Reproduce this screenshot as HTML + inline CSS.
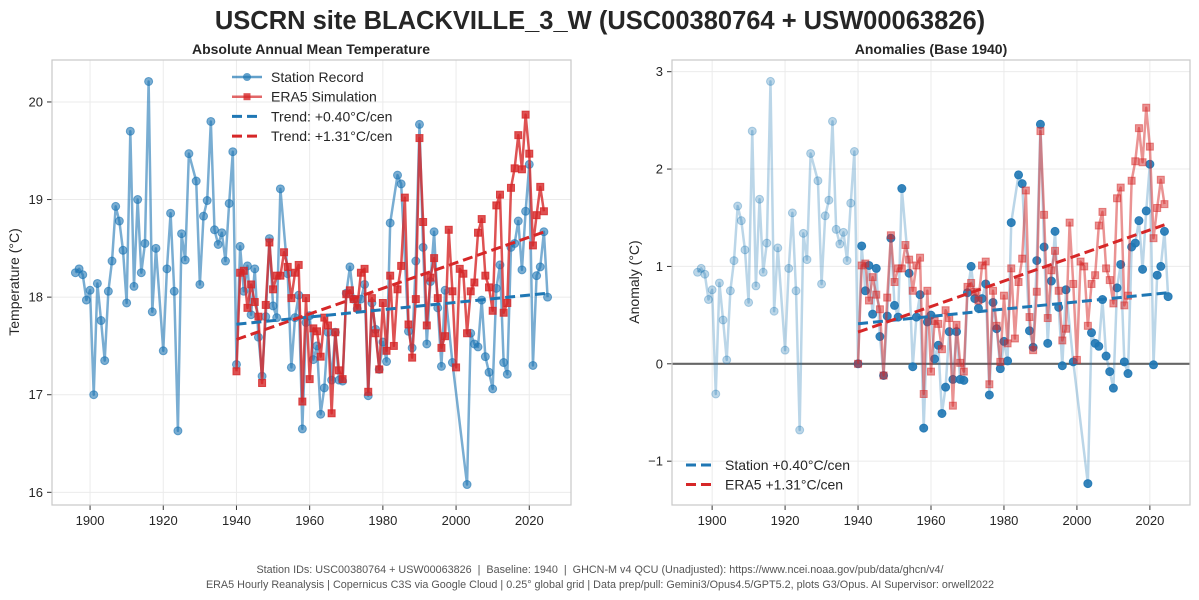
<!DOCTYPE html>
<html><head><meta charset="utf-8"><style>
html,body{margin:0;padding:0;background:#fff;}
svg{display:block;font-family:"Liberation Sans",sans-serif;}
</style></head><body>
<svg id="chart" width="1199" height="600" viewBox="0 0 1199 600">
<text x="600" y="29" text-anchor="middle" font-size="25.5" font-weight="bold" fill="#262626">USCRN site BLACKVILLE_3_W (USC00380764 + USW00063826)</text>
<text x="311" y="54" text-anchor="middle" font-size="14" font-weight="bold" fill="#262626">Absolute Annual Mean Temperature</text>
<text x="931" y="54" text-anchor="middle" font-size="14" font-weight="bold" fill="#262626">Anomalies (Base 1940)</text>
<text transform="translate(19,282) rotate(-90)" text-anchor="middle" font-size="14" fill="#262626">Temperature (°C)</text>
<text transform="translate(639,282) rotate(-90)" text-anchor="middle" font-size="14" fill="#262626">Anomaly (°C)</text>
<g id="left"></g>
<g id="right"></g>
<text x="600" y="573" text-anchor="middle" font-size="10.8" fill="#555" xml:space="preserve" style="white-space:pre">Station IDs: USC00380764 + USW00063826  |  Baseline: 1940  |  GHCN-M v4 QCU (Unadjusted): https://www.ncei.noaa.gov/pub/data/ghcn/v4/</text>
<text x="600" y="588" text-anchor="middle" font-size="10.8" fill="#555">ERA5 Hourly Reanalysis | Copernicus C3S via Google Cloud | 0.25° global grid | Data prep/pull: Gemini3/Opus4.5/GPT5.2, plots G3/Opus. AI Supervisor: orwell2022</text>
</svg>
<script>
const stationYears=[1896,1897,1898,1899,1900,1901,1902,1903,1904,1905,1906,1907,1908,1909,1910,1911,1912,1913,1914,1915,1916,1917,1918,1920,1921,1922,1923,1924,1925,1926,1927,1929,1930,1931,1932,1933,1934,1935,1936,1937,1938,1939,
1940,1941,1942,1943,1944,1945,1946,1947,1948,1949,1950,1951,1952,1954,1955,1956,1957,1958,1959,1960,1961,1962,1963,1964,1965,1966,1967,1968,1969,1970,1971,1972,1973,1974,1975,1976,1977,1978,1979,1980,1981,1982,
1984,1985,1987,1988,1989,1990,1991,1992,1993,1994,1995,1996,1997,1999,2003,2004,2005,2006,2007,2008,2009,2010,2011,2012,2013,2014,2015,2016,2017,2018,2019,2020,2021,2022,2023,2024,2025];
const stationTemps=[18.25,18.29,18.23,17.97,18.07,17.0,18.14,17.76,17.35,18.06,18.37,18.93,18.78,18.48,17.94,19.70,18.11,19.0,18.25,18.55,20.21,17.85,18.50,17.45,18.29,18.86,18.06,16.63,18.65,18.38,19.47,19.19,18.13,18.83,18.99,19.8,18.69,18.54,18.66,18.37,18.96,19.49,
17.31,18.52,18.06,18.32,17.82,18.29,17.59,17.19,17.80,18.6,17.91,17.79,19.11,18.24,17.28,17.79,18.02,16.65,17.74,17.81,17.36,17.5,16.8,17.07,17.64,17.15,17.64,17.15,17.14,18.04,18.31,17.98,17.88,17.98,18.13,16.99,17.94,17.67,17.26,17.54,17.34,18.76,
19.25,19.16,17.65,17.48,18.37,19.77,18.51,17.52,18.16,18.67,17.89,17.29,18.07,17.33,16.08,17.63,17.52,17.49,17.97,17.39,17.23,17.06,18.09,18.33,17.33,17.21,18.51,18.55,18.78,18.28,18.88,19.36,17.30,18.22,18.31,18.67,18.0];
const era5Years=[];for(let y=1940;y<=2024;y++)era5Years.push(y);
const era5Temps=[17.24,18.25,18.27,17.89,18.13,17.95,17.8,17.12,17.92,18.56,18.08,18.22,18.22,18.46,18.31,17.99,18.25,18.33,16.93,17.99,17.16,17.68,17.65,17.39,17.79,17.71,16.81,17.64,17.25,17.16,18.03,18.07,17.98,17.89,18.25,18.29,17.03,17.99,17.63,17.26,17.94,17.45,18.22,17.5,18.08,18.32,
19.02,17.72,17.38,17.98,19.63,18.77,17.71,18.2,18.4,17.99,17.48,17.6,18.69,18.06,17.28,18.29,18.24,17.63,18.06,18.15,18.66,18.8,18.22,18.1,17.86,18.94,19.05,17.84,17.94,19.12,19.32,19.66,19.31,19.87,19.47,18.53,18.84,19.13,18.88];
const baseYear=1940;
const xTicks=[1900,1920,1940,1960,1980,2000,2020];
const leftYTicks=[16,17,18,19,20];
const rightYTicks=[-1,0,1,2,3];
const legendLeft=["Station Record","ERA5 Simulation","Trend: +0.40°C/cen","Trend: +1.31°C/cen"];
const legendRight=["Station +0.40°C/cen","ERA5 +1.31°C/cen"];

const NS="http://www.w3.org/2000/svg";
function mk(parent,tag,attrs){const e=document.createElementNS(NS,tag);for(const k in attrs)e.setAttribute(k,attrs[k]);parent.appendChild(e);return e;}
function fit(xs,ys){const n=xs.length;let mx=0,my=0;for(let i=0;i<n;i++){mx+=xs[i];my+=ys[i];}mx/=n;my/=n;let sxy=0,sxx=0;for(let i=0;i<n;i++){sxy+=(xs[i]-mx)*(ys[i]-my);sxx+=(xs[i]-mx)**2;}const b=sxy/sxx;return y=>my+b*(y-mx);}
const BLUE="#1f77b4",RED="#d62728";

function panel(g,L,R,T,B,x0,x1,y0,y1,yTicks,isAnom){
  const sx=v=>L+(v-x0)/(x1-x0)*(R-L), sy=v=>B-(v-y0)/(y1-y0)*(B-T);
  const grid=mk(g,'g',{});
  xTicks.forEach(t=>{mk(grid,'line',{x1:sx(t),x2:sx(t),y1:T,y2:B,stroke:'#ebebeb','stroke-width':1});
    mk(g,'line',{x1:sx(t),x2:sx(t),y1:B,y2:B+5,stroke:'#333','stroke-width':1});
    const tx=mk(g,'text',{x:sx(t),y:B+20,'text-anchor':'middle','font-size':13,fill:'#262626'});tx.textContent=t;
    });
  yTicks.forEach(t=>{mk(grid,'line',{x1:L,x2:R,y1:sy(t),y2:sy(t),stroke:'#ebebeb','stroke-width':1});
    mk(g,'line',{x1:L-5,x2:L,y1:sy(t),y2:sy(t),stroke:'#333','stroke-width':1});
    const tx=mk(g,'text',{x:L-9,y:sy(t)+4.5,'text-anchor':'end','font-size':13,fill:'#262626'});tx.textContent=(t<0?'\u2212'+(-t):t);
    });
  const bi=stationYears.indexOf(baseYear), sb=stationTemps[bi], eb=era5Temps[era5Years.indexOf(baseYear)];
  const sv=isAnom?stationTemps.map(v=>v-sb):stationTemps, ev=isAnom?era5Temps.map(v=>v-eb):era5Temps;
  if(isAnom){const z=mk(g,'line',{x1:L,x2:R,y1:sy(0),y2:sy(0),stroke:'#666','stroke-width':2.2});}
  const spts=stationYears.map((y,i)=>sx(y)+','+sy(sv[i])).join(' ');
  const sl=mk(g,'polyline',{points:spts,fill:'none',stroke:BLUE,'stroke-width':2.5,'stroke-opacity':isAnom?0.3:0.6,'stroke-linejoin':'round'});
  
  const sm=mk(g,'g',{});
  stationYears.forEach((y,i)=>{let op=0.6;if(isAnom)op=y>=baseYear?0.9:0.3;
    const c=mk(sm,'circle',{cx:sx(y),cy:sy(sv[i]),r:4,fill:BLUE,'fill-opacity':op,stroke:BLUE,'stroke-opacity':op,'stroke-width':1});
    });
  const epts=era5Years.map((y,i)=>sx(y)+','+sy(ev[i])).join(' ');
  const el=mk(g,'polyline',{points:epts,fill:'none',stroke:RED,'stroke-width':2.5,'stroke-opacity':isAnom?0.5:0.8,'stroke-linejoin':'round'});
  
  const em=mk(g,'g',{});
  era5Years.forEach((y,i)=>{const op=isAnom?0.5:0.8;
    const r=mk(em,'rect',{x:sx(y)-3.5,y:sy(ev[i])-3.5,width:7,height:7,fill:RED,'fill-opacity':op,stroke:RED,'stroke-opacity':op});
    });
  const sY=[],sV=[];stationYears.forEach((y,i)=>{if(y>=baseYear){sY.push(y);sV.push(sv[i]);}});
  const fs=fit(sY,sV), fe=fit(era5Years,ev);
  const ts=mk(g,'line',{x1:sx(sY[0]),y1:sy(fs(sY[0])),x2:sx(sY[sY.length-1]),y2:sy(fs(sY[sY.length-1])),stroke:BLUE,'stroke-width':3,'stroke-dasharray':'10,5'});
  
  const e0=era5Years[0],e1=era5Years[era5Years.length-1];
  const te=mk(g,'line',{x1:sx(e0),y1:sy(fe(e0)),x2:sx(e1),y2:sy(fe(e1)),stroke:RED,'stroke-width':3,'stroke-dasharray':'10,5'});
  
  const fr=mk(g,'rect',{x:L,y:T,width:R-L,height:B-T,fill:'none',stroke:'#c8c8c8','stroke-width':1.2});
  
}
panel(document.getElementById('left'),52,571,60,505,1889.6,2031.4,15.87,20.43,leftYTicks,false);
panel(document.getElementById('right'),672,1190,60,505,1889,2031,-1.45,3.12,rightYTicks,true);

const lg=mk(document.getElementById('left'),'g',{});

legendLeft.forEach((t,i)=>{const y=77+i*19.7;const col=(i%2==0)?BLUE:RED;
  const ent=mk(lg,'g',{});
  if(i<2){mk(ent,'line',{x1:232,x2:262,y1:y,y2:y,stroke:col,'stroke-width':2.5,'stroke-opacity':0.7});
    if(i==0)mk(ent,'circle',{cx:247,cy:y,r:4,fill:col,'fill-opacity':0.7});else mk(ent,'rect',{x:243.5,y:y-3.5,width:7,height:7,fill:col,'fill-opacity':0.8});}
  else mk(ent,'line',{x1:232,x2:262,y1:y,y2:y,stroke:col,'stroke-width':3,'stroke-dasharray':'10,5'});
  const tx=mk(ent,'text',{x:271,y:y+5,'font-size':14,fill:'#262626'});tx.textContent=t;});
const rg=mk(document.getElementById('right'),'g',{});

legendRight.forEach((t,i)=>{const y=465+i*19.5;const col=i==0?BLUE:RED;
  const ent=mk(rg,'g',{});
  mk(ent,'line',{x1:686,x2:716,y1:y,y2:y,stroke:col,'stroke-width':3,'stroke-dasharray':'10,5'});
  const tx=mk(ent,'text',{x:725,y:y+5,'font-size':14,fill:'#262626'});tx.textContent=t;});
</script>
</body></html>
